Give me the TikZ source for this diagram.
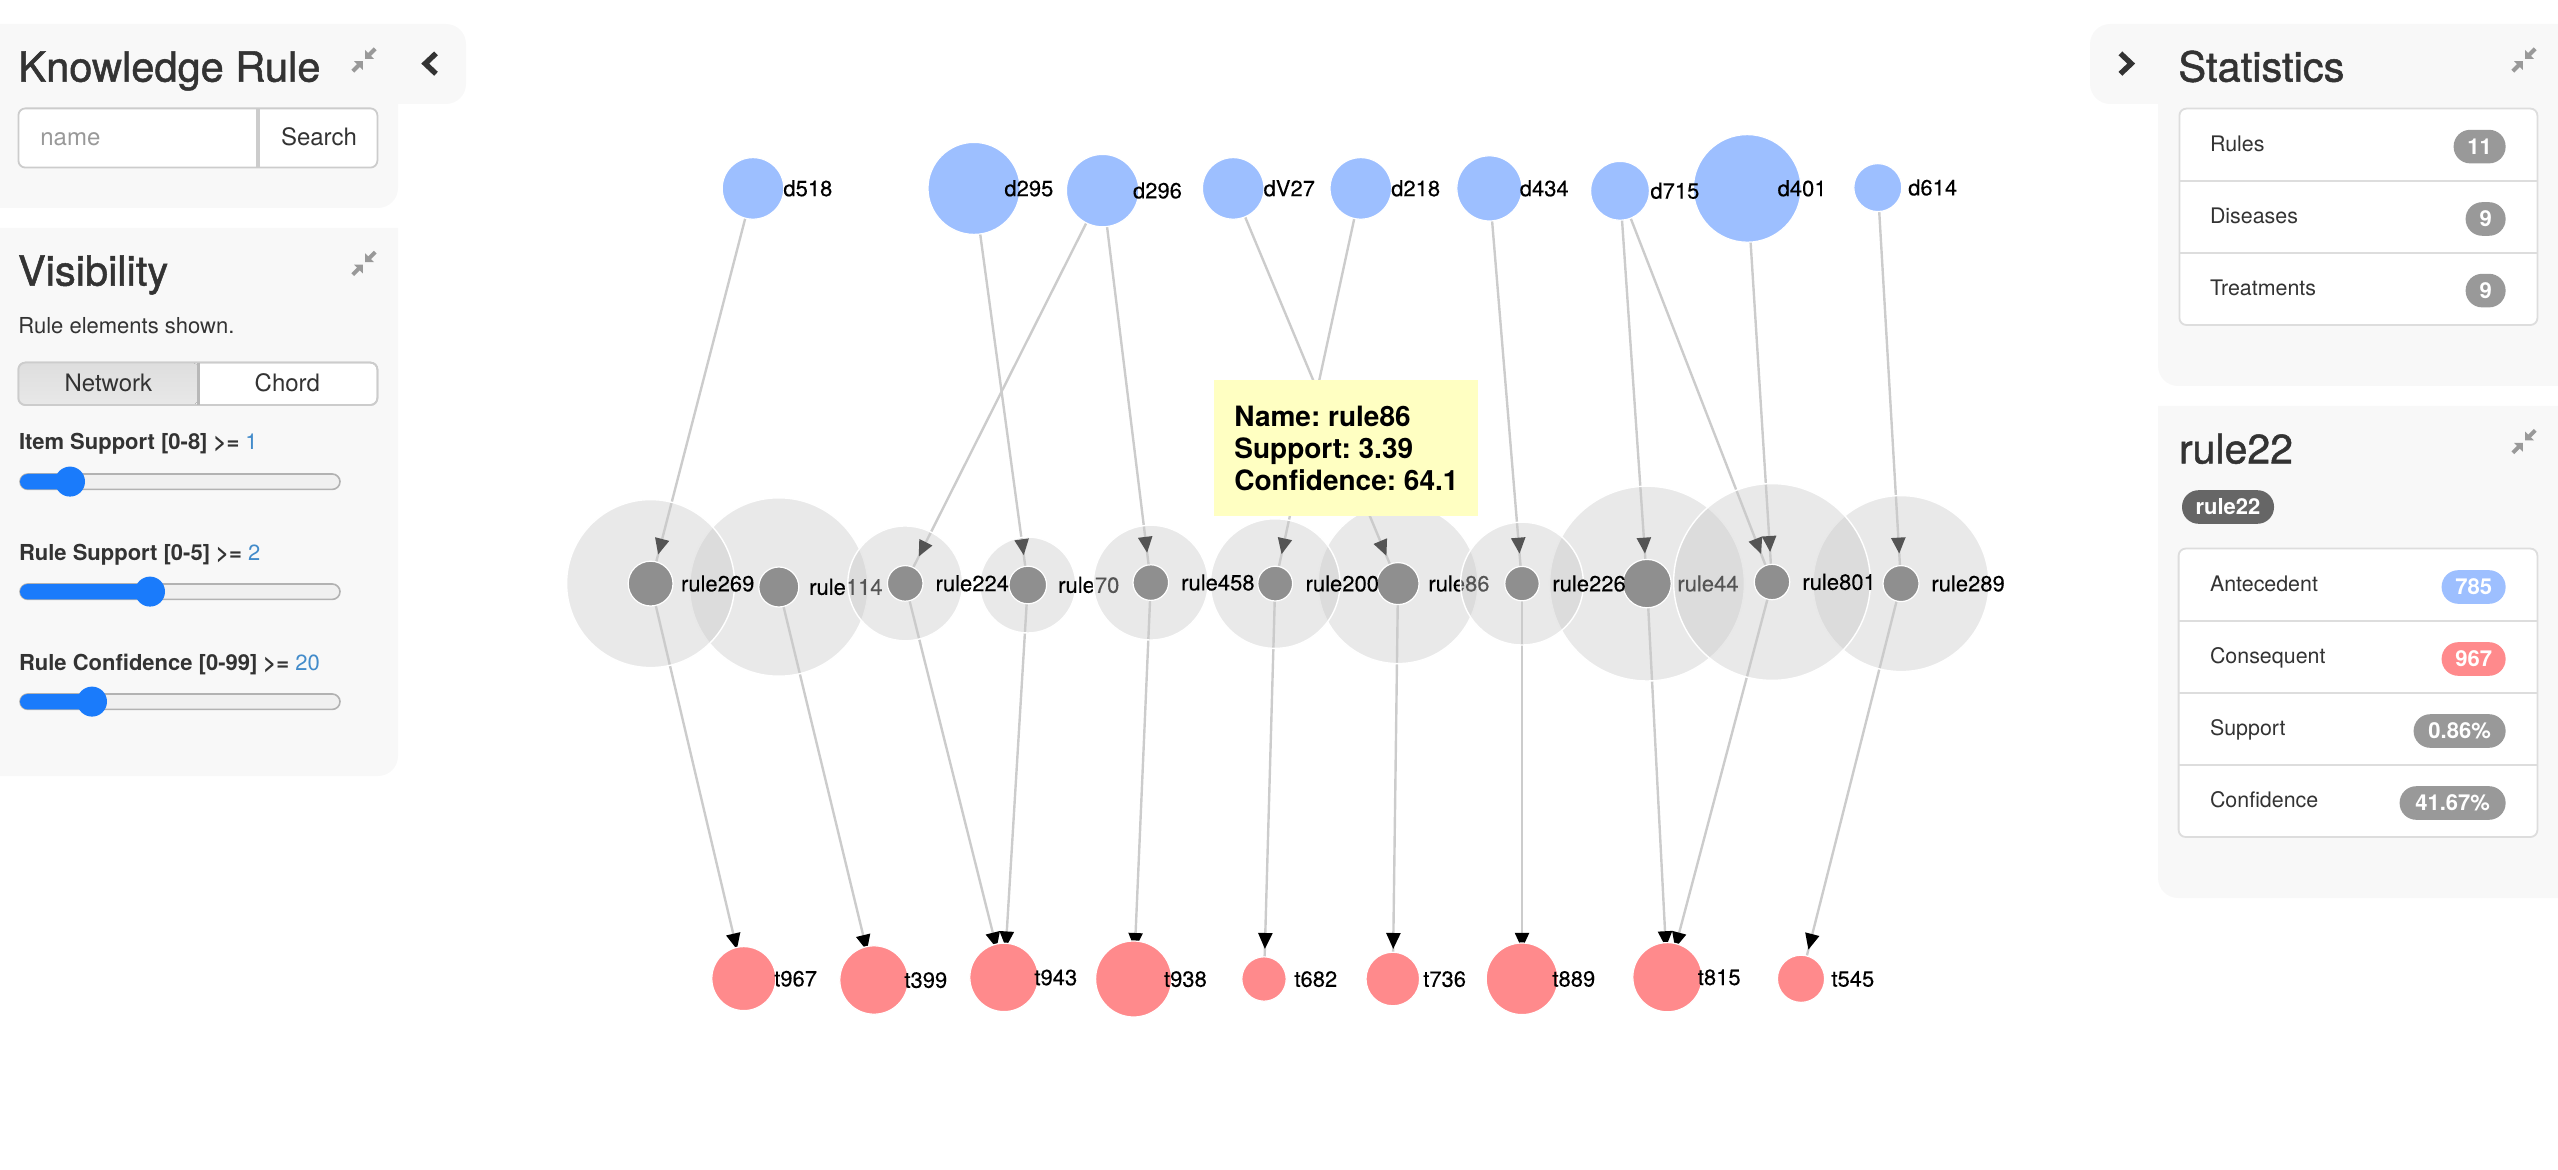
\documentclass[tikz,border=0pt]{standalone}
\usepackage{fontspec}
\setmainfont{TeX Gyre Heros}
\newfontfamily\headfont[FakeBold=1.2]{TeX Gyre Heros}
\newfontfamily\labelfont[FakeBold=0.2]{TeX Gyre Heros}
\usetikzlibrary{arrows.meta,decorations.markings,backgrounds}
\definecolor{panelgray}{HTML}{F8F8F8}
\definecolor{inkgray}{HTML}{333333}
\definecolor{iconcolor}{HTML}{999999}
\definecolor{linegray}{HTML}{CCCCCC}
\definecolor{listgray}{HTML}{DDDDDD}
\definecolor{itemblue}{HTML}{9DBFFF}
\definecolor{itemred}{HTML}{FF8A8C}
\definecolor{rulegray}{HTML}{8F8F8F}
\definecolor{halogray}{HTML}{CACACA}
\definecolor{linkgray}{HTML}{CCCCCC}
\definecolor{sliderblue}{HTML}{1A7BFB}
\definecolor{valueblue}{HTML}{428BCA}
\definecolor{tipyellow}{HTML}{FFFFC2}
\tikzset{
	panel/.style={fill=panelgray},
	heading/.style={anchor=base west,inner sep=0pt,text=inkgray,font=\headfont\fontsize{20.8}{24}\selectfont},
	smalltext/.style={anchor=base west,inner sep=0pt,text=inkgray,font=\fontsize{11}{13}\selectfont},
	listtext/.style={anchor=base west,inner sep=0pt,text=inkgray,font=\fontsize{10.7}{13}\selectfont},
	buttontext/.style={anchor=base,inner sep=0pt,text=inkgray,font=\fontsize{12}{14}\selectfont},
	listbox/.style={draw=listgray,fill=white,line width=.9pt,rounded corners=3.5pt},
	inputbox/.style={draw=linegray,fill=white,line width=.9pt,rounded corners=3.5pt},
	listrule/.style={draw=listgray,line width=.9pt},
	badge/.style={anchor=east,inner sep=0pt,minimum height=16.8pt,rounded corners=8.3pt,text=white,font=\bfseries\fontsize{11}{13}\selectfont},
	track/.style={draw=black!30,fill=black!6,line width=.8pt,rounded corners=3.9pt},
	trackfill/.style={fill=sliderblue,rounded corners=3.9pt},
	thumb/.style={circle,fill=sliderblue,minimum size=15pt,inner sep=0pt},
	chevron/.style={draw=inkgray,line width=2.7pt,miter limit=10},
	item/.style={circle,draw=white,line width=.6pt,inner sep=0pt},
	disease/.style={item,fill=itemblue},
	treatment/.style={item,fill=itemred},
	rulecore/.style={item,fill=rulegray},
	rulehalo/.style={circle,draw=white,line width=.7pt,fill=halogray,fill opacity=.42,inner sep=0pt},
	nodelabel/.style={anchor=base west,inner sep=0pt,font=\labelfont\fontsize{11}{13}\selectfont},
	link/.style={draw=linkgray,line width=1.2pt,postaction={decorate},
		decoration={markings,mark=at position -15pt with {\arrow[black]{Triangle[length=8pt,width=7pt]}}}},
	tipbox/.style={fill=tipyellow,anchor=north west,inner ysep=0pt,inner xsep=0pt,minimum width=132pt,minimum height=68pt,
		align=left,font=\bfseries\fontsize{14}{16}\selectfont\frenchspacing},
	shrink/.pic={
		\fill[iconcolor] (-.6,.6) -- (-5,.6) -- (-.6,5) -- cycle;
		\fill[iconcolor] (.6,-.6) -- (5,-.6) -- (.6,-5) -- cycle;
		\draw[iconcolor,line width=2pt] (-2,2) -- (-5.6,5.6);
		\draw[iconcolor,line width=2pt] (2,-2) -- (5.6,-5.6);
	}
}
% one network item: style, name, x, y, diameter, text
\newcommand{\netnode}[6]{
	\node[#1,minimum size=#5pt] (#2) at (#3,#4) {};
	\node[nodelabel] (#2label) at ([xshift=15pt,yshift=-3.9pt]#2.center) {#6};
}
% one rule: name, x, y, core diameter, halo diameter
\newcommand{\rulenode}[5]{
	\node[rulehalo,minimum size=#5pt] (#1halo) at (#2,#3) {};
	\netnode{rulecore}{#1}{#2}{#3}{#4}{#1}
}
\begin{document}
\begin{tikzpicture}[x=1pt,y=-1pt]
	\useasboundingbox (0,0) rectangle (1279,585);
	% left panels
	\fill[panel] (0,12) [rounded corners=10pt] -- (233,12) -- (233,52) [sharp corners] -- (199,52) [rounded corners=10pt] -- (199,104) [sharp corners] -- (0,104) -- cycle;
	\fill[panel] (0,114) -- (199,114) [rounded corners=10pt] -- (199,388) [sharp corners] -- (0,388) -- cycle;
	\node[heading] (knowledgetitle) at (9,40.8) {Knowledge Rule};
	\pic at (182,30) {shrink};
	\draw[chevron] (218,26.7) -- (212.6,31.8) -- (218,36.9);
	\draw[inputbox] (9.2,54.2) rectangle (188.7,83.8);
	\draw[draw=linegray,line width=1.6pt] (129,54.2) -- (129,83.8);
	\node[buttontext,anchor=base west,text=iconcolor] (namefield) at (20,72.8) {name};
	\node[buttontext,anchor=base west] (searchbutton) at (140.3,72.8) {Search};
	\node[heading] (visibilitytitle) at (8.8,142.8) {Visibility};
	\pic at (182,131.7) {shrink};
	\node[smalltext] (visibilitytext) at (9,166.7) {Rule elements shown.};
	\draw[inputbox] (9.2,181.3) rectangle (188.7,202.5);
	\fill[top color=black!13,bottom color=black!9,rounded corners=3.5pt] (9.2,181.3) rectangle (99.2,202.5);
	\draw[inputbox,fill=none] (9.2,181.3) rectangle (188.7,202.5);
	\draw[draw=black!28,line width=1.2pt] (99.2,181.3) -- (99.2,202.5);
	\node[buttontext] (networkbutton) at (54.2,195.8) {Network};
	\node[buttontext] (chordbutton) at (143.7,195.8) {Chord};
	\node[smalltext] (itemlabel) at (9.3,225) {\textbf{Item Support [0-8] >=} \textcolor{valueblue}{1}};
	\draw[track] (10,237) rectangle (170,244.7);
	\fill[trackfill] (10,237) rectangle (35,244.7);
	\node[thumb] (itemthumb) at (35,240.8) {};
	\node[smalltext] (rulelabel) at (9.3,280) {\textbf{Rule Support [0-5] >=} \textcolor{valueblue}{2}};
	\draw[track] (10,292) rectangle (170,299.7);
	\fill[trackfill] (10,292) rectangle (75,299.7);
	\node[thumb] (rulethumb) at (75,295.8) {};
	\node[smalltext] (conflabel) at (9.3,335) {\textbf{Rule Confidence [0-99] >=} \textcolor{valueblue}{20}};
	\draw[track] (10,347) rectangle (170,354.7);
	\fill[trackfill] (10,347) rectangle (46,354.7);
	\node[thumb] (confthumb) at (46,350.8) {};
	% right panels
	\fill[panel] (1279,12) [rounded corners=10pt] -- (1045,12) -- (1045,52) [sharp corners] -- (1079,52) [rounded corners=10pt] -- (1079,193) [sharp corners] -- (1279,193) -- cycle;
	\fill[panel] (1279,203) -- (1079,203) [rounded corners=10pt] -- (1079,449) [sharp corners] -- (1279,449) -- cycle;
	\draw[chevron] (1060.2,26.7) -- (1065.6,31.8) -- (1060.2,36.9);
	\node[heading] (statstitle) at (1089,40.8) {Statistics};
	\pic at (1262,30) {shrink};
	\draw[listbox] (1089.7,54.3) rectangle (1268.7,162.5);
	\draw[listrule] (1089.7,90.5) -- (1268.7,90.5);
	\draw[listrule] (1089.7,126.5) -- (1268.7,126.5);
	\node[listtext] (rulesitem) at (1104.8,75.8) {Rules};
	\node[listtext] (diseasesitem) at (1104.8,111.8) {Diseases};
	\node[listtext] (treatmentsitem) at (1104.8,147.8) {Treatments};
	\node[badge,fill=iconcolor,minimum width=26pt] (rulesbadge) at (1253,73.3) {11};
	\node[badge,fill=iconcolor,minimum width=20pt] (diseasesbadge) at (1253,109.5) {9};
	\node[badge,fill=iconcolor,minimum width=20pt] (treatmentsbadge) at (1253,145.3) {9};
	\node[heading,font=\headfont\fontsize{20.5}{24}\selectfont] (ruletitle) at (1089.3,231.7) {rule22};
	\pic at (1262,220.8) {shrink};
	\node[badge,anchor=center,fill=black!60,minimum width=46pt] (rulebadge) at (1114,253.5) {rule22};
	\draw[listbox] (1089.3,274.3) rectangle (1268.7,418.5);
	\draw[listrule] (1089.3,310.3) -- (1268.7,310.3);
	\draw[listrule] (1089.3,346.5) -- (1268.7,346.5);
	\draw[listrule] (1089.3,382.5) -- (1268.7,382.5);
	\node[listtext] (antecedentitem) at (1104.8,295.8) {Antecedent};
	\node[listtext] (consequentitem) at (1104.8,331.7) {Consequent};
	\node[listtext] (supportitem) at (1104.8,367.5) {Support};
	\node[listtext] (confidenceitem) at (1104.8,403.7) {Confidence};
	\node[badge,fill=itemblue,minimum width=32pt] (antecedentbadge) at (1253,293.5) {785};
	\node[badge,fill=itemred,minimum width=32pt] (consequentbadge) at (1253,329.5) {967};
	\node[badge,fill=iconcolor,minimum width=46pt] (supportbadge) at (1253,365.5) {0.86\%};
	\node[badge,fill=iconcolor,minimum width=53pt] (confidencebadge) at (1253,401.5) {41.67\%};
	% diseases
	\netnode{disease}{d518}{376.5}{94.2}{30.8}{d518}
	\netnode{disease}{d295}{487}{94.2}{46}{d295}
	\netnode{disease}{d296}{551.3}{95.3}{36.2}{d296}
	\netnode{disease}{dV27}{616.6}{94.2}{30.8}{dV27}
	\netnode{disease}{d218}{680.4}{94.2}{30.8}{d218}
	\netnode{disease}{d434}{744.7}{94.2}{32.6}{d434}
	\netnode{disease}{d401}{873.6}{94.2}{53.8}{d401}
	\netnode{disease}{d715}{810}{95.4}{29.4}{d715}
	\netnode{disease}{d614}{938.9}{93.8}{24}{d614}
	% rules, in the order they overlap
	\rulenode{rule114}{389.4}{293.5}{20}{89.2}
	\rulenode{rule70}{513.9}{292.5}{18.8}{48}
	\rulenode{rule86}{699}{291.8}{21}{80}
	\rulenode{rule44}{823.5}{291.8}{24.2}{97.4}
	\rulenode{rule289}{950.5}{291.8}{18}{88}
	\rulenode{rule269}{325.3}{291.8}{22.4}{84}
	\rulenode{rule224}{452.6}{291.7}{17.8}{57.4}
	\rulenode{rule200}{637.6}{291.8}{17.4}{64.8}
	\rulenode{rule458}{575.4}{291.3}{17.8}{57.4}
	\rulenode{rule226}{761}{291.8}{17.2}{61.4}
	\rulenode{rule801}{886}{291}{17.7}{98.4}
	% treatments
	\netnode{treatment}{t967}{371.9}{489.3}{32}{t967}
	\netnode{treatment}{t399}{437}{490}{34.2}{t399}
	\netnode{treatment}{t943}{502}{488.7}{34.2}{t943}
	\netnode{treatment}{t938}{566.8}{489.5}{38}{t938}
	\netnode{treatment}{t682}{632}{489.5}{22.2}{t682}
	\netnode{treatment}{t736}{696.4}{489.5}{26.8}{t736}
	\netnode{treatment}{t889}{761}{489.4}{35.8}{t889}
	\netnode{treatment}{t815}{833.7}{488.6}{34.6}{t815}
	\netnode{treatment}{t545}{900.5}{489.4}{23.6}{t545}
	% links go under the nodes
	\begin{scope}[on background layer]
		\draw[link] (d518.center) -- (rule269.center);
		\draw[link] (d295.center) -- (rule70.center);
		\draw[link] (d296.center) -- (rule224.center);
		\draw[link] (d296.center) -- (rule458.center);
		\draw[link] (dV27.center) -- (rule86.center);
		\draw[link] (d218.center) -- (rule200.center);
		\draw[link] (d434.center) -- (rule226.center);
		\draw[link] (d715.center) -- (rule44.center);
		\draw[link] (d715.center) -- (rule801.center);
		\draw[link] (d401.center) -- (rule801.center);
		\draw[link] (d614.center) -- (rule289.center);
		\draw[link] (rule269.center) -- (t967.center);
		\draw[link] (rule114.center) -- (t399.center);
		\draw[link] (rule224.center) -- (t943.center);
		\draw[link] (rule70.center) -- (t943.center);
		\draw[link] (rule458.center) -- (t938.center);
		\draw[link] (rule200.center) -- (t682.center);
		\draw[link] (rule86.center) -- (t736.center);
		\draw[link] (rule226.center) -- (t889.center);
		\draw[link] (rule44.center) -- (t815.center);
		\draw[link] (rule801.center) -- (t815.center);
		\draw[link] (rule289.center) -- (t545.center);
	\end{scope}
	\node[tipbox] (tooltip) at (607,190) {Name: rule86\\Support: 3.39\\Confidence: 64.1};
\end{tikzpicture}
\end{document}
